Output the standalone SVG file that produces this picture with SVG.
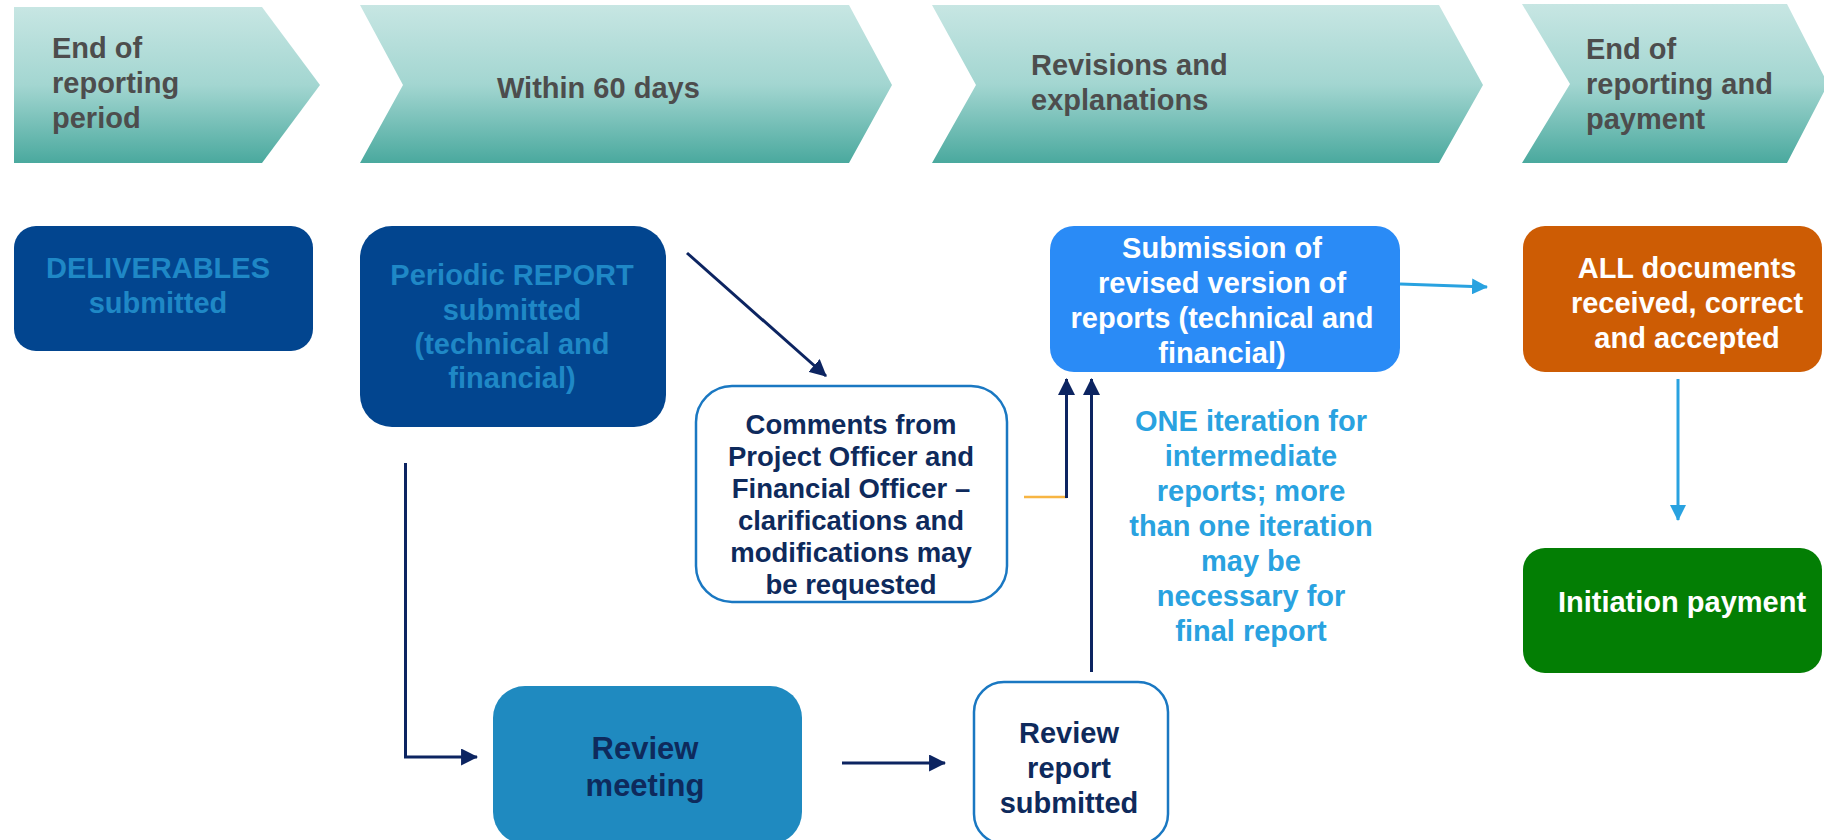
<svg xmlns="http://www.w3.org/2000/svg" width="1824" height="840" viewBox="0 0 1824 840">
<defs>
<linearGradient id="chev" x1="0" y1="0" x2="0" y2="1">
<stop offset="0" stop-color="#c7e6e3"/>
<stop offset="0.5" stop-color="#a3d6d1"/>
<stop offset="1" stop-color="#4aa99e"/>
</linearGradient>
<marker id="navyArrow" viewBox="0 0 16 16" refX="15" refY="8" markerWidth="17" markerHeight="17" markerUnits="userSpaceOnUse" orient="auto">
<path d="M0,0 L16,8 L0,16 Z" fill="#0c2461"/>
</marker>
<marker id="blueArrow" viewBox="0 0 16 16" refX="15" refY="8" markerWidth="16" markerHeight="16" markerUnits="userSpaceOnUse" orient="auto">
<path d="M0,0 L16,8 L0,16 Z" fill="#29a2e0"/>
</marker>
</defs>
<style>
text{font-family:"Liberation Sans",Arial,sans-serif;font-weight:bold;}
.chev{fill:url(#chev);}
.ct{fill:#4d4d4d;font-size:29px;}
.t29{font-size:29px;}
.t26{font-size:27.5px;}
.t31{font-size:31px;}
.mid{text-anchor:middle;}
.navyline{fill:none;stroke:#0c2461;stroke-width:3;}
.blueline{fill:none;stroke:#29a2e0;stroke-width:3;}
</style>
<rect width="1824" height="840" fill="#ffffff"/>

<g id="phase1">
<polygon class="chev" points="14,7 262,7 320,85 262,163 14,163"/>
<text class="ct" x="52" y="58">End of</text>
<text class="ct" x="52" y="93">reporting</text>
<text class="ct" x="52" y="128">period</text>
</g>
<g id="phase2">
<polygon class="chev" points="360,5 849,5 892,85 849,163 360,163 403,85"/>
<text class="ct" x="497" y="98">Within 60 days</text>
</g>
<g id="phase3">
<polygon class="chev" points="932,5 1439,5 1483,85 1439,163 932,163 976,85"/>
<text class="ct" x="1031" y="75">Revisions and</text>
<text class="ct" x="1031" y="110">explanations</text>
</g>
<g id="phase4">
<polygon class="chev" points="1522,4 1787,4 1828,84 1787,163 1522,163 1570,84"/>
<text class="ct" x="1586" y="59">End of</text>
<text class="ct" x="1586" y="94">reporting and</text>
<text class="ct" x="1586" y="129">payment</text>
</g>

<g id="deliverables">
<rect x="14" y="226" width="299" height="125" rx="22" fill="#02458f"/>
<text class="t29 mid" x="158" y="278" fill="#1f88c6">DELIVERABLES</text>
<text class="t29 mid" x="158" y="313" fill="#1f88c6">submitted</text>
</g>

<g id="periodic-report">
<rect x="360" y="226" width="306" height="201" rx="32" fill="#02458f"/>
<text class="t29 mid" x="512" y="285" fill="#1f88c6">Periodic REPORT</text>
<text class="t29 mid" x="512" y="320" fill="#1f88c6">submitted</text>
<text class="t29 mid" x="512" y="354" fill="#1f88c6">(technical and</text>
<text class="t29 mid" x="512" y="388" fill="#1f88c6">financial)</text>
</g>

<g id="comments">
<rect x="696" y="386" width="311" height="216" rx="36" fill="#ffffff" stroke="#1a78c2" stroke-width="2.5"/>
<text class="t26 mid" x="851" y="434" fill="#0e2a5c">Comments from</text>
<text class="t26 mid" x="851" y="466" fill="#0e2a5c">Project Officer and</text>
<text class="t26 mid" x="851" y="498" fill="#0e2a5c">Financial Officer –</text>
<text class="t26 mid" x="851" y="530" fill="#0e2a5c">clarifications and</text>
<text class="t26 mid" x="851" y="562" fill="#0e2a5c">modifications may</text>
<text class="t26 mid" x="851" y="594" fill="#0e2a5c">be requested</text>
</g>

<g id="submission">
<rect x="1050" y="226" width="350" height="146" rx="24" fill="#2a8bf6"/>
<text class="t29 mid" x="1222" y="258" fill="#ffffff">Submission of</text>
<text class="t29 mid" x="1222" y="293" fill="#ffffff">revised version of</text>
<text class="t29 mid" x="1222" y="328" fill="#ffffff">reports (technical and</text>
<text class="t29 mid" x="1222" y="363" fill="#ffffff">financial)</text>
</g>

<g id="iteration-note">
<text class="t29 mid" x="1251" y="431" fill="#29a2e0">ONE iteration for</text>
<text class="t29 mid" x="1251" y="466" fill="#29a2e0">intermediate</text>
<text class="t29 mid" x="1251" y="501" fill="#29a2e0">reports; more</text>
<text class="t29 mid" x="1251" y="536" fill="#29a2e0">than one iteration</text>
<text class="t29 mid" x="1251" y="571" fill="#29a2e0">may be</text>
<text class="t29 mid" x="1251" y="606" fill="#29a2e0">necessary for</text>
<text class="t29 mid" x="1251" y="641" fill="#29a2e0">final report</text>
</g>

<g id="all-documents">
<rect x="1523" y="226" width="299" height="146" rx="22" fill="#cd5c04"/>
<text class="t29 mid" x="1687" y="278" fill="#ffffff">ALL documents</text>
<text class="t29 mid" x="1687" y="313" fill="#ffffff">received, correct</text>
<text class="t29 mid" x="1687" y="348" fill="#ffffff">and accepted</text>
</g>

<g id="initiation-payment">
<rect x="1523" y="548" width="299" height="125" rx="22" fill="#037e04"/>
<text class="t29 mid" x="1682" y="612" fill="#ffffff">Initiation payment</text>
</g>

<g id="review-meeting">
<rect x="493" y="686" width="309" height="158" rx="32" fill="#1f8ac0"/>
<text class="t31 mid" x="645" y="759" fill="#0e2a5c">Review</text>
<text class="t31 mid" x="645" y="796" fill="#0e2a5c">meeting</text>
</g>

<g id="review-report">
<rect x="974" y="682" width="194" height="162" rx="30" fill="#ffffff" stroke="#1a78c2" stroke-width="2.5"/>
<text class="t29 mid" x="1069" y="743" fill="#0e2a5c">Review</text>
<text class="t29 mid" x="1069" y="778" fill="#0e2a5c">report</text>
<text class="t29 mid" x="1069" y="813" fill="#0e2a5c">submitted</text>
</g>

<g id="connectors">
<line class="navyline" x1="687" y1="253" x2="826" y2="376" marker-end="url(#navyArrow)"/>
<polyline class="navyline" points="405.5,463 405.5,757 477,757" marker-end="url(#navyArrow)"/>
<line class="navyline" x1="842" y1="763" x2="945" y2="763" marker-end="url(#navyArrow)"/>
<line x1="1024" y1="497" x2="1067" y2="497" stroke="#f7b543" stroke-width="2.5"/>
<line class="navyline" x1="1066.5" y1="498" x2="1066.5" y2="379" marker-end="url(#navyArrow)"/>
<line class="navyline" x1="1091.5" y1="672" x2="1091.5" y2="379" marker-end="url(#navyArrow)"/>
<line class="blueline" x1="1400" y1="284" x2="1487" y2="287" marker-end="url(#blueArrow)"/>
<line class="blueline" x1="1678" y1="379" x2="1678" y2="520" marker-end="url(#blueArrow)"/>
</g>
</svg>
